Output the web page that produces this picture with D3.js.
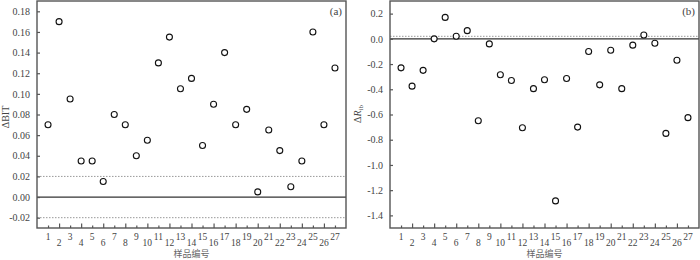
<!DOCTYPE html>
<html>
<head>
<meta charset="utf-8">
<script src="https://cdn.jsdelivr.net/npm/d3@7"></script>
<style>
  body { margin: 0; background: #fff; }
  svg { display: block; }
  text { font-family: "Liberation Serif", "DejaVu Serif", serif; fill: #444; }
  .cjk { font-family: "Noto Sans CJK SC", sans-serif; fill: #666; }
</style>
</head>
<body>
<svg width="700" height="260"></svg>
<script>
// sample numbers 1..27
var samples = d3.range(1, 28);

// panel (a) delta BIT
var dBIT = [0.07, 0.17, 0.095, 0.035, 0.035, 0.015, 0.08, 0.07, 0.04, 0.055,
  0.13, 0.155, 0.105, 0.115, 0.05, 0.09, 0.14, 0.07, 0.085, 0.005,
  0.065, 0.045, 0.01, 0.035, 0.16, 0.07, 0.125];

// panel (b) delta Rib
var dRib = [-0.23, -0.375, -0.25, 0.0, 0.17, 0.02, 0.065, -0.65, -0.04, -0.285,
  -0.33, -0.705, -0.395, -0.325, -1.285, -0.315, -0.70, -0.10, -0.365, -0.09,
  -0.395, -0.05, 0.03, -0.035, -0.75, -0.17, -0.625];

var ticksA = d3.range(-0.02, 0.1801, 0.02);
var ticksB = d3.range(-1.4, 0.2001, 0.2);
var refA = [-0.02, 0.02];
var refB = [0.02];

var svg = d3.select("svg");

// draw one panel
function drawPanel(opt) {
  var x = d3.scaleLinear().domain([0, 28]).range([opt.left, opt.right]);
  var y = d3.scaleLinear().domain(opt.domain).range([228, 1]);
  var g = svg.append("g");

  // reference lines
  g.selectAll(".ref").data(opt.refs).enter().append("line")
    .attr("x1", opt.left).attr("x2", opt.right)
    .attr("y1", d => y(d)).attr("y2", d => y(d))
    .attr("stroke", "#999").attr("stroke-width", 1)
    .attr("stroke-dasharray", "1.5,1.5");
  g.append("line")
    .attr("x1", opt.left).attr("x2", opt.right)
    .attr("y1", y(0)).attr("y2", y(0))
    .attr("stroke", "#333").attr("stroke-width", 1.3);

  // y axis
  var ya = g.append("g").attr("transform", "translate(" + opt.left + ",0)")
    .call(d3.axisLeft(y).tickValues(opt.ticks).tickSizeInner(-3).tickSizeOuter(0)
      .tickPadding(7).tickFormat(d3.format(opt.fmt)));
  ya.select(".domain").remove();
  ya.selectAll(".tick line").attr("stroke", "#555").attr("stroke-width", 1.2);
  ya.selectAll("text").style("font-size", "10px").attr("fill", "#444")
    .style("font-family", "Liberation Serif").text(function (d) {
      return d3.format(opt.fmt)(d).replace("−", "-");
    });

  // x axis ticks, pointing up
  var xa = g.append("g").attr("transform", "translate(0,228)")
    .call(d3.axisBottom(x).tickValues(samples).tickSizeOuter(0).tickFormat(""));
  xa.select(".domain").remove();
  xa.selectAll(".tick line").attr("stroke", "#555").attr("stroke-width", 1.2)
    .attr("y2", d => d % 2 ? -2.5 : -4.5);
  g.selectAll(".xl").data(samples).enter().append("text")
    .attr("x", d => x(d)).attr("y", d => d % 2 ? 240 : 246)
    .attr("text-anchor", "middle").style("font-size", "9.5px").text(d => d);

  // frame
  g.append("rect").attr("x", opt.left).attr("y", 1)
    .attr("width", opt.right - opt.left).attr("height", 227)
    .attr("fill", "none").attr("stroke", "#555").attr("stroke-width", 1.4);

  // points
  g.selectAll("circle").data(opt.values).enter().append("circle")
    .attr("cx", (d, i) => x(samples[i])).attr("cy", d => y(d))
    .attr("r", 3).attr("fill", "#fff").attr("stroke", "#111").attr("stroke-width", 1.1);

  // panel tag
  g.append("text").attr("x", opt.right - 4).attr("y", 15).attr("text-anchor", "end")
    .style("font-size", "11px").attr("fill", "#333").text(opt.tag);

  // x title
  g.append("text").attr("class", "cjk").attr("x", (opt.left + opt.right) / 2).attr("y", 257)
    .attr("text-anchor", "middle").style("font-size", "9px").text("样品编号");
  return g;
}

var ga = drawPanel({ left: 37, right: 346, domain: [-0.03, 0.19], ticks: ticksA, fmt: ".2f", values: dBIT, refs: refA, tag: "(a)" });
var gb = drawPanel({ left: 390, right: 699, domain: [-1.5, 0.3], ticks: ticksB, fmt: ".1f", values: dRib, refs: refB, tag: "(b)" });

// y titles
ga.append("text").attr("transform", "translate(9,117) rotate(-90)")
  .attr("text-anchor", "middle").style("font-size", "10px").text("ΔBIT");
var tb = gb.append("text").attr("transform", "translate(361,114) rotate(-90)")
  .attr("text-anchor", "middle").style("font-size", "10px");
tb.append("tspan").text("Δ");
tb.append("tspan").style("font-style", "italic").text("R");
tb.append("tspan").attr("dy", 2).style("font-size", "7px").text("ib");
</script>
</body>
</html>
